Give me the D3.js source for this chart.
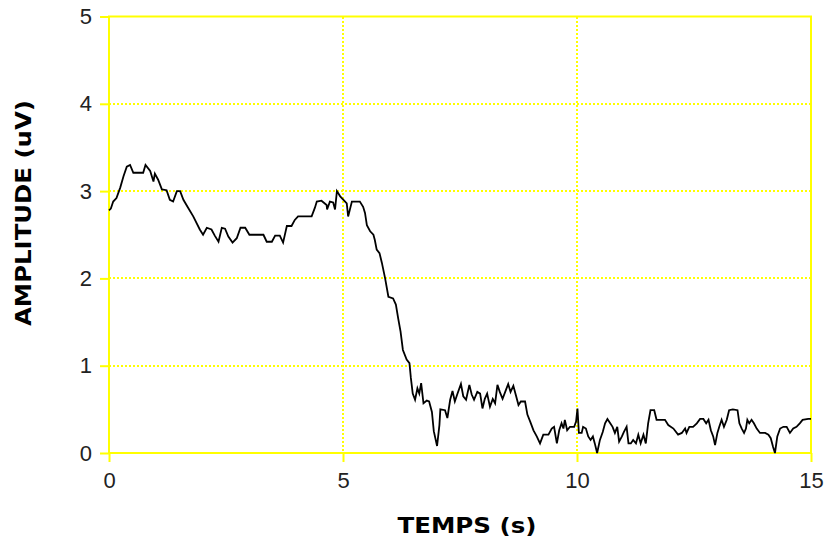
<!DOCTYPE html>
<html>
<head>
<meta charset="utf-8">
<script src="https://cdn.jsdelivr.net/npm/d3@7"></script>
<style>
  html, body { margin: 0; padding: 0; background: #ffffff; }
  svg { display: block; }
</style>
</head>
<body>
<svg id="chart" width="828" height="540"></svg>
<script>
// ---- data ----
const times = [0.00,0.04,0.09,0.16,0.24,0.31,0.38,0.45,0.52,0.62,0.73,0.78,0.88,0.95,0.98,1.05,1.13,1.23,1.30,1.37,1.45,1.52,1.59,1.69,1.80,1.94,2.01,2.09,2.19,2.26,2.34,2.41,2.48,2.55,2.64,2.73,2.81,2.91,3.00,3.14,3.30,3.37,3.48,3.55,3.65,3.72,3.80,3.90,3.97,4.04,4.19,4.33,4.40,4.44,4.54,4.65,4.66,4.72,4.79,4.83,4.87,4.94,5.01,5.08,5.11,5.19,5.28,5.36,5.43,5.47,5.51,5.58,5.65,5.68,5.72,5.78,5.83,5.90,5.97,6.07,6.13,6.18,6.23,6.28,6.36,6.42,6.45,6.49,6.54,6.59,6.63,6.67,6.72,6.79,6.84,6.90,6.94,7.01,7.06,7.08,7.18,7.23,7.29,7.34,7.39,7.44,7.52,7.57,7.63,7.70,7.75,7.80,7.87,7.93,7.98,8.03,8.08,8.14,8.20,8.25,8.30,8.35,8.41,8.48,8.53,8.58,8.64,8.70,8.75,8.80,8.89,8.94,9.00,9.07,9.14,9.21,9.28,9.39,9.46,9.51,9.57,9.62,9.67,9.71,9.74,9.79,9.85,9.94,9.98,10.01,10.04,10.10,10.13,10.19,10.24,10.29,10.34,10.38,10.43,10.49,10.55,10.60,10.65,10.71,10.76,10.81,10.86,10.90,10.96,11.00,11.06,11.10,11.15,11.20,11.26,11.31,11.36,11.42,11.47,11.52,11.57,11.65,11.70,11.77,11.88,11.95,12.06,12.16,12.24,12.31,12.34,12.40,12.48,12.56,12.63,12.70,12.76,12.81,12.86,12.91,12.95,13.00,13.04,13.09,13.14,13.20,13.25,13.33,13.43,13.47,13.52,13.57,13.61,13.64,13.68,13.73,13.78,13.84,13.91,14.02,14.09,14.14,14.19,14.23,14.28,14.34,14.41,14.48,14.55,14.62,14.69,14.76,14.82,14.94,15.00];
const amplitude = [2.78,2.80,2.88,2.92,3.04,3.17,3.28,3.30,3.21,3.21,3.21,3.30,3.23,3.11,3.20,3.13,3.02,3.01,2.90,2.88,3.00,3.00,2.90,2.81,2.71,2.56,2.50,2.58,2.56,2.49,2.42,2.58,2.57,2.48,2.41,2.46,2.58,2.58,2.50,2.50,2.50,2.42,2.42,2.49,2.49,2.41,2.60,2.60,2.67,2.71,2.71,2.71,2.81,2.88,2.89,2.84,2.79,2.88,2.87,2.79,3.00,2.94,2.90,2.86,2.71,2.88,2.88,2.88,2.82,2.75,2.61,2.54,2.50,2.44,2.33,2.29,2.18,2.00,1.79,1.77,1.70,1.54,1.39,1.18,1.07,1.03,0.86,0.68,0.61,0.74,0.68,0.80,0.57,0.60,0.59,0.47,0.25,0.08,0.32,0.50,0.49,0.40,0.61,0.71,0.59,0.67,0.79,0.65,0.61,0.78,0.67,0.61,0.70,0.68,0.51,0.62,0.68,0.53,0.62,0.57,0.78,0.70,0.62,0.72,0.79,0.70,0.77,0.65,0.55,0.59,0.59,0.44,0.36,0.26,0.19,0.11,0.21,0.21,0.28,0.30,0.11,0.26,0.34,0.28,0.38,0.26,0.30,0.30,0.36,0.51,0.23,0.23,0.30,0.28,0.19,0.15,0.19,0.11,0.00,0.15,0.24,0.34,0.39,0.34,0.30,0.23,0.30,0.13,0.19,0.24,0.30,0.11,0.11,0.15,0.11,0.21,0.11,0.21,0.11,0.34,0.49,0.49,0.38,0.38,0.38,0.32,0.28,0.21,0.23,0.28,0.23,0.30,0.30,0.34,0.39,0.39,0.34,0.38,0.26,0.19,0.09,0.23,0.30,0.38,0.30,0.38,0.49,0.50,0.49,0.34,0.28,0.23,0.28,0.38,0.34,0.38,0.34,0.28,0.23,0.23,0.21,0.17,0.07,0.00,0.19,0.28,0.30,0.30,0.23,0.28,0.30,0.34,0.38,0.39,0.39];
const xTicks = [0, 5, 10, 15];
const yTicks = [0, 1, 2, 3, 4, 5];
const xTitle = "TEMPS (s)";
const yTitle = "AMPLITUDE (uV)";

// ---- layout ----
const svg = d3.select("#chart");
const mLeft = 109, mRight = 811, mTop = 16.5, mBottom = 453;
const x = d3.scaleLinear().domain([0, 15]).range([mLeft, mRight]);
const y = d3.scaleLinear().domain([0, 5]).range([mBottom, mTop]);
const yellow = "#ffff00";

// grid (dotted)
const grid = svg.append("g").attr("shape-rendering", "crispEdges");
grid.selectAll("line.h").data(yTicks.filter(d => d > 0 && d < 5)).join("line")
  .attr("x1", mLeft).attr("x2", mRight)
  .attr("y1", d => Math.round(y(d))).attr("y2", d => Math.round(y(d)))
  .attr("stroke", yellow).attr("stroke-width", 1.5).attr("stroke-dasharray", "2,2");
grid.selectAll("line.v").data(xTicks.filter(d => d > 0 && d < 15)).join("line")
  .attr("y1", mTop).attr("y2", mBottom)
  .attr("x1", d => Math.round(x(d))).attr("x2", d => Math.round(x(d)))
  .attr("stroke", yellow).attr("stroke-width", 1.5).attr("stroke-dasharray", "2,2");

// frame
svg.append("rect")
  .attr("x", mLeft).attr("y", mTop).attr("width", mRight - mLeft).attr("height", mBottom - mTop)
  .attr("fill", "none").attr("stroke", yellow).attr("stroke-width", 2);

// axes with D3
const font = "'Liberation Sans', Arial, sans-serif";
const yAxis = svg.append("g").attr("transform", `translate(${mLeft},0)`)
  .call(d3.axisLeft(y).tickValues(yTicks).tickFormat(d3.format("d")).tickSize(9).tickPadding(8));
const xAxis = svg.append("g").attr("transform", `translate(0,${mBottom})`)
  .call(d3.axisBottom(x).tickValues(xTicks).tickFormat(d3.format("d")).tickSize(9).tickPadding(10));
[yAxis, xAxis].forEach(a => {
  a.select(".domain").remove();
  a.selectAll(".tick line").attr("stroke", yellow).attr("stroke-width", 2);
  a.selectAll(".tick text").attr("fill", "#222").style("font-family", font).style("font-size", "22px");
});
yAxis.selectAll(".tick text").attr("x", -17);

// line
const pts = times.map((t, i) => [t, amplitude[i]]);
svg.append("path")
  .datum(pts)
  .attr("fill", "none").attr("stroke", "#000").attr("stroke-width", 1.8)
  .attr("stroke-linejoin", "miter")
  .attr("d", d3.line().x(d => x(d[0])).y(d => y(d[1])));

// titles
const titleFont = "'DejaVu Sans', Verdana, sans-serif";
svg.append("text")
  .attr("x", 467).attr("y", 533)
  .attr("text-anchor", "middle")
  .attr("textLength", 139).attr("lengthAdjust", "spacingAndGlyphs")
  .style("font-family", titleFont).style("font-weight", "bold").style("font-size", "21px")
  .attr("fill", "#000").text(xTitle);
svg.append("text")
  .attr("transform", "translate(31,213) rotate(-90)")
  .attr("text-anchor", "middle")
  .attr("textLength", 226).attr("lengthAdjust", "spacingAndGlyphs")
  .style("font-family", titleFont).style("font-weight", "bold").style("font-size", "21px")
  .attr("fill", "#000").text(yTitle);
</script>
</body>
</html>
